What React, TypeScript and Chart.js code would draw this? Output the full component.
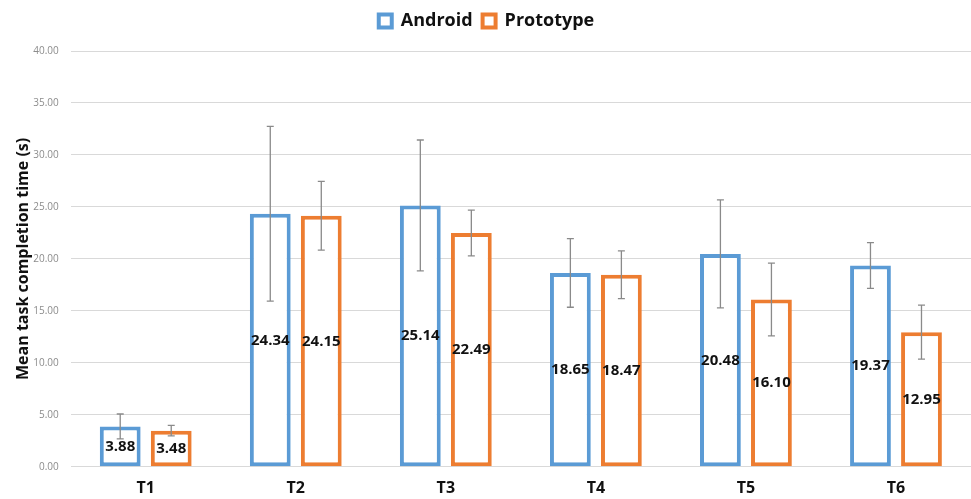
import React, { useEffect, useRef } from "react";
import { Chart, registerables } from "chart.js";

Chart.register(...registerables);

const categories = ["T1", "T2", "T3", "T4", "T5", "T6"];
const androidMeans = [3.88, 24.34, 25.14, 18.65, 20.48, 19.37];
const prototypeMeans = [3.48, 24.15, 22.49, 18.47, 16.1, 12.95];
const androidErr = [1.2, 8.4, 6.3, 3.3, 5.2, 2.2];
const prototypeErr = [0.5, 3.3, 2.2, 2.3, 3.5, 2.6];
const yTicks = [0, 5, 10, 15, 20, 25, 30, 35, 40];

const BLUE = "#5B9BD5";
const ORANGE = "#ED7D31";
const FONT = "'Open Sans', 'DejaVu Sans', sans-serif";

const errorBarPlugin = {
  id: "errorBars",
  afterDatasetsDraw(chart: any) {
    const ctx = chart.ctx;
    const yScale = chart.scales.y;
    const errs = [androidErr, prototypeErr];
    ctx.save();
    ctx.strokeStyle = "#8a8a8a";
    ctx.lineWidth = 1.3;
    chart.data.datasets.forEach((ds: any, di: number) => {
      const meta = chart.getDatasetMeta(di);
      meta.data.forEach((bar: any, i: number) => {
        const v = ds.data[i];
        const e = errs[di][i];
        const x = bar.x;
        const yT = yScale.getPixelForValue(v + e);
        const yB = yScale.getPixelForValue(v - e);
        ctx.beginPath();
        ctx.moveTo(x, yT);
        ctx.lineTo(x, yB);
        ctx.moveTo(x - 3.5, yT);
        ctx.lineTo(x + 3.5, yT);
        ctx.moveTo(x - 3.5, yB);
        ctx.lineTo(x + 3.5, yB);
        ctx.stroke();
      });
    });
    ctx.restore();
  },
};

const valueLabelPlugin = {
  id: "valueLabels",
  afterDatasetsDraw(chart: any) {
    const ctx = chart.ctx;
    const yScale = chart.scales.y;
    ctx.save();
    ctx.fillStyle = "#111";
    ctx.font = `bold 15px ${FONT}`;
    ctx.textAlign = "center";
    ctx.textBaseline = "middle";
    chart.data.datasets.forEach((ds: any, di: number) => {
      const meta = chart.getDatasetMeta(di);
      meta.data.forEach((bar: any, i: number) => {
        const v = ds.data[i];
        const y = yScale.getPixelForValue(v / 2);
        ctx.fillText(v.toFixed(2), bar.x, y);
      });
    });
    ctx.restore();
  },
};

const legendSpacing = {
  id: "legendSpacing",
  beforeInit(chart: any) {
    const legend = chart.legend;
    if (!legend) return;
    const origFit = legend.fit;
    legend.fit = function () {
      origFit.call(this);
      this.height += 11;
    };
  },
};

export default function App() {
  const ref = useRef<HTMLCanvasElement>(null);
  useEffect(() => {
    document.body.style.margin = "0";
    const chart = new Chart(ref.current!, {
      type: "bar",
      data: {
        labels: categories,
        datasets: [
          {
            label: "Android",
            data: androidMeans,
            backgroundColor: "#ffffff",
            borderColor: BLUE,
            borderWidth: 4,
            borderSkipped: false,
          },
          {
            label: "Prototype",
            data: prototypeMeans,
            backgroundColor: "#ffffff",
            borderColor: ORANGE,
            borderWidth: 4,
            borderSkipped: false,
          },
        ],
      },
      options: {
        responsive: false,
        animation: false,
        layout: { padding: { left: 2, right: 0, top: 2, bottom: -11 } },
        datasets: { bar: { categoryPercentage: 0.68, barPercentage: 0.8 } },
        plugins: {
          legend: {
            position: "top",
            labels: {
              boxWidth: 13,
              boxHeight: 13,
              padding: 10,
              color: "#111",
              font: { family: FONT, size: 18, weight: "bold" },
            },
          },
          tooltip: { enabled: false },
        },
        scales: {
          x: {
            grid: { display: false, drawTicks: false },
            border: { display: false },
            ticks: {
              color: "#111",
              padding: 12,
              font: { family: FONT, size: 16, weight: "bold" },
            },
          },
          y: {
            min: 0,
            max: 40,
            afterBuildTicks(axis: any) {
              axis.ticks = yTicks.map((v) => ({ value: v }));
            },
            grid: { color: "#d9d9d9", lineWidth: 1, drawTicks: false },
            border: { display: false },
            ticks: {
              color: "#8c8c8c",
              padding: 12,
              font: { family: FONT, size: 10 },
              callback: (v: any) => Number(v).toFixed(2),
            },
            title: {
              display: true,
              text: "Mean task completion time (s)",
              color: "#111",
              font: { family: FONT, size: 16, weight: "bold" },
              padding: { top: 12, bottom: -12 },
            },
          },
        },
      },
      plugins: [legendSpacing, errorBarPlugin, valueLabelPlugin],
    });
    return () => chart.destroy();
  }, []);
  return (
    <div style={{ width: 971, height: 499 }}>
      <canvas ref={ref} width={971} height={499} />
    </div>
  );
}
